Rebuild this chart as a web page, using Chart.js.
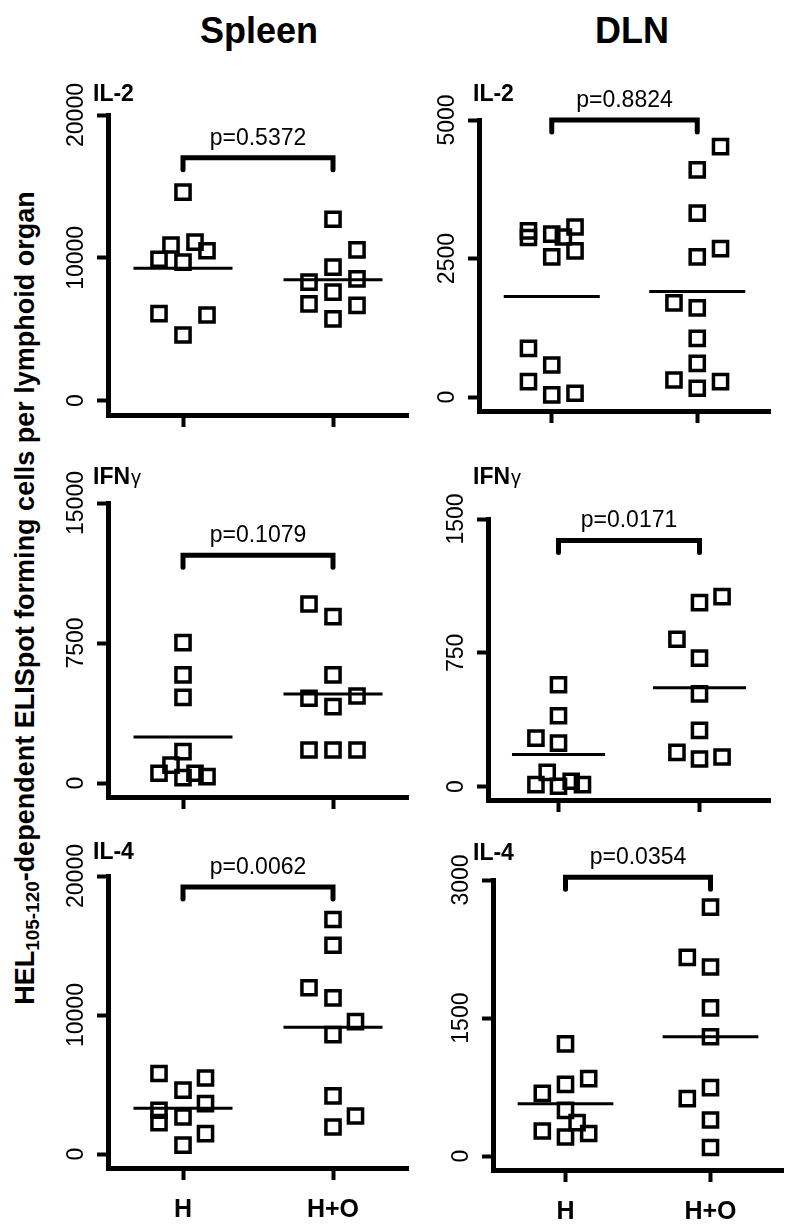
<!DOCTYPE html>
<html>
<head>
<meta charset="utf-8">
<script src="https://cdn.jsdelivr.net/npm/chart.js@4.4.0/dist/chart.umd.min.js"></script>
<style>
  html, body { margin: 0; padding: 0; background: #fff; }
  #page { position: relative; width: 793px; height: 1232px; overflow: hidden; font-family: 'Liberation Sans', Arial, sans-serif; color: #000; }
  canvas { position: absolute; }
  .title { position: absolute; font-weight: bold; font-size: 36px; line-height: 1; transform: translateX(-50%); white-space: nowrap; }
  #ytitle { position: absolute; font-weight: bold; font-size: 27px; line-height: 1; white-space: nowrap; transform: translate(-50%, -50%) rotate(-90deg); }
  #ytitle sub { font-size: 0.7em; vertical-align: -0.3em; line-height: 0; }
</style>
</head>
<body>
<div id="page">
  <div class="title" style="left:259px; top:13px">Spleen</div>
  <div class="title" style="left:632px; top:13px">DLN</div>
  <div id="ytitle" style="left:25px; top:598px">HEL<sub>105-120</sub>-dependent ELISpot forming cells per lymphoid organ</div>
</div>
<script>
const FONT = "'Liberation Sans', Arial, sans-serif";

const groups = ['H', 'H+O'];
const pValues = ['p=0.5372', 'p=0.8824', 'p=0.1079', 'p=0.0171', 'p=0.0062', 'p=0.0354'];

// y tick labels per panel
const ticksSpleenIL2 = [0, 10000, 20000];
const ticksDlnIL2 = [0, 2500, 5000];
const ticksSpleenIFN = [0, 7500, 15000];
const ticksDlnIFN = [0, 750, 1500];
const ticksSpleenIL4 = [0, 10000, 20000];
const ticksDlnIL4 = [0, 1500, 3000];

// values; *_x = horizontal scatter offset from the group position
const spleenIL2_H = [14600, 10900, 11100, 10500, 9900, 9700, 6100, 6000, 4600];
const spleenIL2_H_x = [0, -0.08, 0.08, 0.16, -0.16, 0, -0.16, 0.16, 0];
const spleenIL2_HO = [12700, 10560, 9350, 8300, 8530, 7600, 6780, 6670, 5730];
const spleenIL2_HO_x = [0, 0.16, 0, -0.16, 0.16, 0, -0.16, 0.16, 0];

const dlnIL2_H = [3000, 2880, 2940, 2890, 3070, 2530, 2640, 880, 580, 280, 40, 70];
const dlnIL2_H_x = [-0.16, -0.16, 0, 0.08, 0.16, 0, 0.16, -0.16, 0, -0.16, 0, 0.16];
const dlnIL2_HO = [4520, 4100, 3320, 2680, 2530, 1700, 1610, 1060, 610, 310, 280, 160];
const dlnIL2_HO_x = [0.16, 0, 0, 0.16, 0, -0.16, 0, 0, 0, -0.16, 0.16, 0];

const spleenIFN_H = [7520, 5790, 4590, 1680, 960, 520, 290, 520, 340];
const spleenIFN_H_x = [0, 0, 0, 0, -0.08, -0.16, 0, 0.08, 0.16];
const spleenIFN_HO = [9590, 8910, 5790, 4540, 4660, 4090, 1770, 1770, 1770];
const spleenIFN_HO_x = [-0.16, 0, 0, -0.16, 0.16, 0, -0.16, 0, 0.16];

const dlnIFN_H = [571, 397, 272, 244, 80, 11, 2, 30, 11];
const dlnIFN_H_x = [0, 0, -0.16, 0, -0.08, -0.16, 0, 0.09, 0.17];
const dlnIFN_HO = [1065, 1031, 826, 720, 520, 315, 192, 155, 166];
const dlnIFN_HO_x = [0.16, 0, -0.16, 0, 0, 0, -0.16, 0, 0.16];

const spleenIL4_H = [5800, 5470, 4600, 3630, 3150, 2670, 2260, 1470, 650];
const spleenIL4_H_x = [-0.16, 0.15, 0, 0.15, -0.16, 0, -0.16, 0.15, 0];
const spleenIL4_HO = [16870, 15020, 11960, 11240, 9530, 8590, 4190, 2740, 1950];
const spleenIL4_HO_x = [0, 0, -0.16, 0, 0.15, 0, 0, 0.15, 0];

const dlnIL4_H = [1220, 842, 780, 683, 498, 365, 274, 246, 209];
const dlnIL4_H_x = [0, 0.16, 0, -0.16, 0, 0.08, -0.16, 0.16, 0];
const dlnIL4_HO = [2705, 2160, 2055, 1611, 1297, 744, 625, 393, 94];
const dlnIL4_HO_x = [0, -0.16, 0, 0, 0, 0, -0.16, 0, 0];

const mean = a => a.reduce((s, v) => s + v, 0) / a.length;

// layout of each panel on the page
const panels = [
  { label: 'IL-2', p: pValues[0], h: spleenIL2_H, hx: spleenIL2_H_x, ho: spleenIL2_HO, hox: spleenIL2_HO_x,
    ticks: ticksSpleenIL2, yMin: -1000, bracket: 17000,
    axisX: 108, top: 115, right: 408, bottom: 415, labelX: 93, labelY: 101, xLabels: false },
  { label: 'IL-2', p: pValues[1], h: dlnIL2_H, hx: dlnIL2_H_x, ho: dlnIL2_HO, hox: dlnIL2_HO_x,
    ticks: ticksDlnIL2, yMin: -250, bracket: 5000,
    axisX: 479, top: 120, right: 770, bottom: 411, labelX: 473, labelY: 101, xLabels: false },
  { label: 'IFN', greek: 'γ', p: pValues[2], h: spleenIFN_H, hx: spleenIFN_H_x, ho: spleenIFN_HO, hox: spleenIFN_HO_x,
    ticks: ticksSpleenIFN, yMin: -750, bracket: 12200,
    axisX: 108, top: 503, right: 408, bottom: 797, labelX: 93, labelY: 484, xLabels: false },
  { label: 'IFN', greek: 'γ', p: pValues[3], h: dlnIFN_H, hx: dlnIFN_H_x, ho: dlnIFN_HO, hox: dlnIFN_HO_x,
    ticks: ticksDlnIFN, yMin: -75, bracket: 1380,
    axisX: 488, top: 519, right: 770, bottom: 800, labelX: 473, labelY: 484, xLabels: false },
  { label: 'IL-4', p: pValues[4], h: spleenIL4_H, hx: spleenIL4_H_x, ho: spleenIL4_HO, hox: spleenIL4_HO_x,
    ticks: ticksSpleenIL4, yMin: -1000, bracket: 19200,
    axisX: 108, top: 876, right: 408, bottom: 1168, labelX: 93, labelY: 859, xLabels: true },
  { label: 'IL-4', p: pValues[5], h: dlnIL4_H, hx: dlnIL4_H_x, ho: dlnIL4_HO, hox: dlnIL4_HO_x,
    ticks: ticksDlnIL4, yMin: -150, bracket: 3030,
    axisX: 493, top: 880, right: 783, bottom: 1170, labelX: 473, labelY: 860, xLabels: true }
];

// rotated y tick labels, significance bracket, p value and cytokine label
const panelDecor = {
  id: 'panelDecor',
  afterDraw(chart, args, o) {
    const ctx = chart.ctx, xs = chart.scales.x, ys = chart.scales.y;
    const left = chart.chartArea.left;
    ctx.save();
    ctx.fillStyle = '#000';
    ctx.strokeStyle = '#000';

    ys.ticks.forEach(t => {
      ctx.save();
      ctx.translate(left - 31, ys.getPixelForValue(t.value));
      ctx.rotate(-Math.PI / 2);
      ctx.font = '23px ' + FONT;
      ctx.textAlign = 'center';
      ctx.textBaseline = 'middle';
      ctx.fillText(String(t.value), 0, 0);
      ctx.restore();
    });

    const x1 = xs.getPixelForValue(1), x2 = xs.getPixelForValue(2);
    const yb = ys.getPixelForValue(o.bracket);
    ctx.lineWidth = 5;
    ctx.lineCap = 'round';
    ctx.beginPath();
    ctx.moveTo(x1, yb + 12);
    ctx.lineTo(x1, yb);
    ctx.lineTo(x2, yb);
    ctx.lineTo(x2, yb + 12);
    ctx.stroke();

    ctx.font = '23px ' + FONT;
    ctx.textAlign = 'center';
    ctx.textBaseline = 'alphabetic';
    ctx.fillText(o.p, (x1 + x2) / 2, yb - 13);

    ctx.textAlign = 'left';
    ctx.font = 'bold 23px ' + FONT;
    const lx = o.labelX - o.cl, ly = o.labelY - o.ct;
    ctx.fillText(o.label, lx, ly);
    if (o.greek) {
      const w = ctx.measureText(o.label).width;
      ctx.font = '20px ' + FONT;
      ctx.fillText(o.greek, lx + w + 1, ly);
    }
    ctx.restore();
  }
};

function pointsSet(vals, offs, cat) {
  return {
    data: vals.map((v, k) => ({ x: cat + offs[k], y: v })),
    pointStyle: 'rect',
    pointRadius: 10,
    pointBorderWidth: 3.5,
    pointBorderColor: '#000',
    pointBackgroundColor: 'rgba(0,0,0,0)',
    clip: false
  };
}

function meanSet(vals, cat) {
  const m = mean(vals);
  return {
    data: [{ x: cat - 0.33, y: m }, { x: cat + 0.33, y: m }],
    showLine: true,
    borderColor: '#000',
    borderWidth: 3,
    pointRadius: 0,
    clip: false
  };
}

const page = document.getElementById('page');

panels.forEach(pn => {
  const cl = pn.axisX - 75, ct = pn.top - 62;
  const cw = pn.right + 15 - cl, ch = pn.bottom + 65 - ct;
  const cv = document.createElement('canvas');
  cv.width = cw;
  cv.height = ch;
  cv.style.left = cl + 'px';
  cv.style.top = ct + 'px';
  page.appendChild(cv);

  new Chart(cv, {
    type: 'scatter',
    data: {
      datasets: [
        pointsSet(pn.h, pn.hx, 1),
        pointsSet(pn.ho, pn.hox, 2),
        meanSet(pn.h, 1),
        meanSet(pn.ho, 2)
      ]
    },
    options: {
      responsive: false,
      animation: false,
      events: [],
      layout: {
        autoPadding: false,
        padding: { left: 0, top: pn.top - ct, right: cw - (pn.right - cl), bottom: 0 }
      },
      plugins: {
        legend: { display: false },
        tooltip: { enabled: false },
        panelDecor: {
          p: pn.p, label: pn.label, greek: pn.greek, bracket: pn.bracket,
          labelX: pn.labelX, labelY: pn.labelY, cl: cl, ct: ct
        }
      },
      scales: {
        x: {
          type: 'linear',
          min: 0.5,
          max: 2.5,
          afterBuildTicks: s => { s.ticks = [{ value: 1 }, { value: 2 }]; },
          afterFit: s => { s.height = ch - (pn.bottom - ct); },
          border: { display: true, width: 5, color: '#000' },
          grid: { drawOnChartArea: false, drawTicks: true, tickLength: 12, tickWidth: 4, tickColor: '#000' },
          ticks: {
            display: pn.xLabels,
            padding: 15,
            maxRotation: 0,
            autoSkip: false,
            color: '#000',
            font: { family: FONT, size: 25, weight: 'bold' },
            callback: v => groups[v - 1]
          }
        },
        y: {
          type: 'linear',
          min: pn.yMin,
          max: pn.ticks[pn.ticks.length - 1],
          afterBuildTicks: s => { s.ticks = pn.ticks.map(v => ({ value: v })); },
          afterFit: s => { s.width = pn.axisX - cl; },
          border: { display: true, width: 5, color: '#000' },
          grid: { drawOnChartArea: false, drawTicks: true, tickLength: 11, tickWidth: 4, tickColor: '#000' },
          ticks: { display: false }
        }
      }
    },
    plugins: [panelDecor]
  });
});
</script>
</body>
</html>
